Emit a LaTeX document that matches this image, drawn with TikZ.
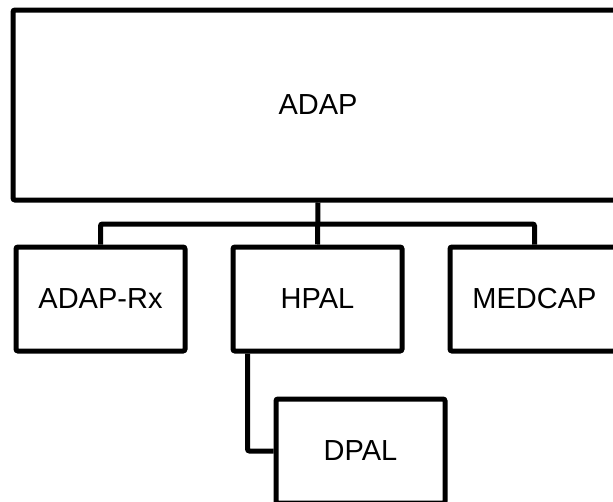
\documentclass[tikz,border=0pt]{standalone}
\usepackage{fontspec}
\setmainfont{Liberation Sans}
\usetikzlibrary{calc}
\begin{document}
\begin{tikzpicture}[x=1pt,y=-1pt,
  box/.style={draw=black,line width=5pt,rounded corners=2pt,inner sep=0pt,
    minimum width=169pt,minimum height=104pt,fill=white,
    font=\fontsize{29}{34}\selectfont},
  conn/.style={draw=black,line width=5pt,rounded corners=2pt}]
\useasboundingbox (0,0) rectangle (613,501);
\node[box,minimum width=610pt,minimum height=190pt] (adap) at (318,105) {ADAP};
\node[box] (rx) at (100.5,299) {ADAP-Rx};
\node[box] (hpal) at (317.5,299) {HPAL};
\node[box] (medcap) at (534.5,299) {MEDCAP};
\node[box] (dpal) at (360.5,451) {DPAL};
\coordinate (bus) at (0,224);
\draw[conn] (rx.north) |- (bus -| hpal.north) -| (medcap.north);
\draw[conn] (adap.south) -- (hpal.north);
\draw[conn] ($(hpal.south west)+(17,0)$) |- (dpal.west);
\end{tikzpicture}
\end{document}
